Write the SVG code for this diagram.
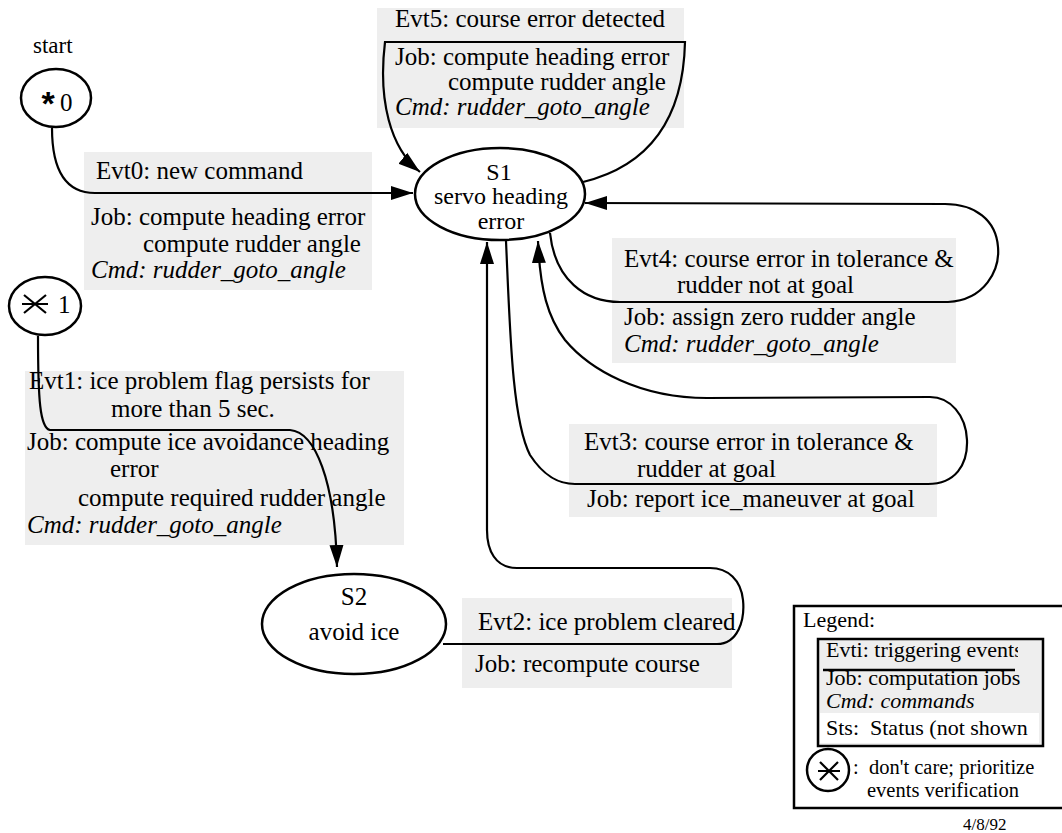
<svg xmlns="http://www.w3.org/2000/svg" width="1062" height="833" viewBox="0 0 1062 833">
<style>
text{font-family:"Liberation Serif","Times New Roman",serif;font-size:25px;fill:#000}
.it{font-style:italic}
.lg{font-size:22px}
.lb{font-size:20.5px}
.box{fill:#eeeeee;stroke:none}
.node{fill:#fff;stroke:#000;stroke-width:2.5}
.edge{fill:none;stroke:#000;stroke-width:2.2}
.sym{stroke:#000;stroke-width:2.2;fill:none}
</style>
<defs>
<marker id="arr" markerUnits="userSpaceOnUse" markerWidth="24" markerHeight="16" refX="22" refY="8" orient="auto" viewBox="0 0 24 16">
<path d="M0,1 L22,8 L0,15 z" fill="#000"/>
</marker>
<clipPath id="clipEvti"><rect x="818" y="639" width="200" height="30"/></clipPath>
<clipPath id="clipSts"><rect x="818" y="713" width="210" height="30"/></clipPath>
<clipPath id="clipPage"><rect x="0" y="0" width="1062" height="833"/></clipPath>
</defs>

<!-- edge label boxes -->
<g id="labels">
<g id="label-evt5">
<rect class="box" x="377" y="8" width="307" height="120"/>
<text x="395" y="27">Evt5: course error detected</text>
<text x="395" y="65">Job: compute heading error</text>
<text x="448" y="90">compute rudder angle</text>
<text class="it" x="395" y="115">Cmd: rudder_goto_angle</text>
</g>
<g id="label-evt0">
<rect class="box" x="84" y="152" width="288" height="138"/>
<text x="96" y="179">Evt0: new command</text>
<text x="91" y="225">Job: compute heading error</text>
<text x="143" y="252">compute rudder angle</text>
<text class="it" x="91" y="278">Cmd: rudder_goto_angle</text>
</g>
<g id="label-evt4">
<rect class="box" x="612" y="238" width="344" height="125"/>
<text x="624" y="267">Evt4: course error in tolerance &amp;</text>
<text x="677" y="293">rudder not at goal</text>
<text x="624" y="325">Job: assign zero rudder angle</text>
<text class="it" x="624" y="352">Cmd: rudder_goto_angle</text>
</g>
<g id="label-evt3">
<rect class="box" x="569" y="424" width="368" height="93"/>
<text x="584" y="450">Evt3: course error in tolerance &amp;</text>
<text x="637" y="477">rudder at goal</text>
<text x="587" y="507">Job: report ice_maneuver at goal</text>
</g>
<g id="label-evt1">
<rect class="box" x="25" y="371" width="379" height="174"/>
<text x="29" y="389">Evt1: ice problem flag persists for</text>
<text x="111" y="417">more than 5 sec.</text>
<text x="27" y="450">Job: compute ice avoidance heading</text>
<text x="110" y="477">error</text>
<text x="78" y="506">compute required rudder angle</text>
<text class="it" x="27" y="533">Cmd: rudder_goto_angle</text>
</g>
<g id="label-evt2">
<rect class="box" x="462" y="598" width="270" height="90"/>
<text x="478" y="630">Evt2: ice problem cleared</text>
<text x="475" y="672">Job: recompute course</text>
</g>
</g>

<!-- nodes -->
<g id="node-start0">
<text x="33" y="53" style="font-size:23px">start</text>
<ellipse class="node" cx="56" cy="98" rx="35" ry="29"/>
<text x="48" y="115" text-anchor="middle" style="font-family:'Liberation Sans',Arial,sans-serif;font-size:34px;font-weight:bold">*</text>
<text x="60" y="111">0</text>
</g>
<g id="node-start1">
<ellipse class="node" cx="45" cy="306" rx="36" ry="29"/>
<path class="sym" d="M24,295 L46,313 M24,313 L46,295 M22,304 L48,304"/>
<text x="58" y="313">1</text>
</g>
<g id="node-s1">
<ellipse class="node" cx="500" cy="194" rx="85" ry="46"/>
<text x="499" y="180" text-anchor="middle" style="font-size:24px">S1</text>
<text x="501" y="204" text-anchor="middle" style="font-size:24px">servo heading</text>
<text x="501" y="229" text-anchor="middle" style="font-size:24px">error</text>
</g>
<g id="node-s2">
<ellipse class="node" cx="354" cy="624" rx="92" ry="50"/>
<text x="354" y="605" text-anchor="middle">S2</text>
<text x="354" y="640" text-anchor="middle">avoid ice</text>
</g>

<!-- connectors -->
<g id="connectors">
<path id="e-evt0" class="edge" d="M52,128 C52,170 65,193 95,193 L413,193" marker-end="url(#arr)"/>
<path id="e-evt5" class="edge" d="M583,182 C640,168 683,130 685,42 L385,42 C378,100 390,148 420,172" marker-end="url(#arr)"/>
<path id="e-evt4" class="edge" d="M550,233 C555,280 585,302 620,302 L948,302 C985,300 1000,270 998,247 C996,220 975,204 945,204 L585,203" marker-end="url(#arr)"/>
<path id="e-evt3" class="edge" d="M506,241 C510,330 512,420 530,455 C545,478 560,484 575,484 L928,484 C955,484 968,465 967,440 C966,415 950,397 930,397 L707,398 C640,398 590,370 565,340 C548,318 540,290 538,241" marker-end="url(#arr)"/>
<path id="e-evt2" class="edge" d="M443,644 L717,644 C738,644 745,620 743,600 C741,580 728,568 710,568 L517,568 C495,568 487,550 487,530 L487,242" marker-end="url(#arr)"/>
<path id="e-evt1" class="edge" d="M38,336 C38,400 40,428 50,430 L290,430 C315,432 335,480 337,567" marker-end="url(#arr)"/>
</g>

<!-- legend -->
<g id="legend" clip-path="url(#clipPage)">
<rect x="794" y="606" width="290" height="202" fill="#fff" stroke="#000" stroke-width="2.5"/>
<text class="lg" x="803" y="627">Legend:</text>
<rect x="818" y="639" width="225" height="107" fill="#eeeeee" stroke="#000" stroke-width="2.5"/>
<rect x="820" y="713" width="219" height="30" fill="#fff"/>
<text class="lg" x="826" y="657" clip-path="url(#clipEvti)">Evti: triggering events</text>
<line x1="823" y1="670" x2="1015" y2="670" stroke="#000" stroke-width="2.5"/>
<text class="lg" x="826" y="685">Job: computation jobs</text>
<text class="lg it" x="826" y="708">Cmd: commands</text>
<text class="lg" x="826" y="735" clip-path="url(#clipSts)" xml:space="preserve">Sts:  Status (not shown)</text>
<ellipse class="node" cx="828" cy="770" rx="21" ry="21"/>
<path class="sym" d="M820,762 L838,780 M820,780 L838,762 M818,771 L840,771"/>
<text class="lb" x="853" y="774" xml:space="preserve">:  don't care; prioritize</text>
<text class="lb" x="867" y="797">events verification</text>
</g>
<text x="963" y="830" style="font-size:17px">4/8/92</text>
</svg>
